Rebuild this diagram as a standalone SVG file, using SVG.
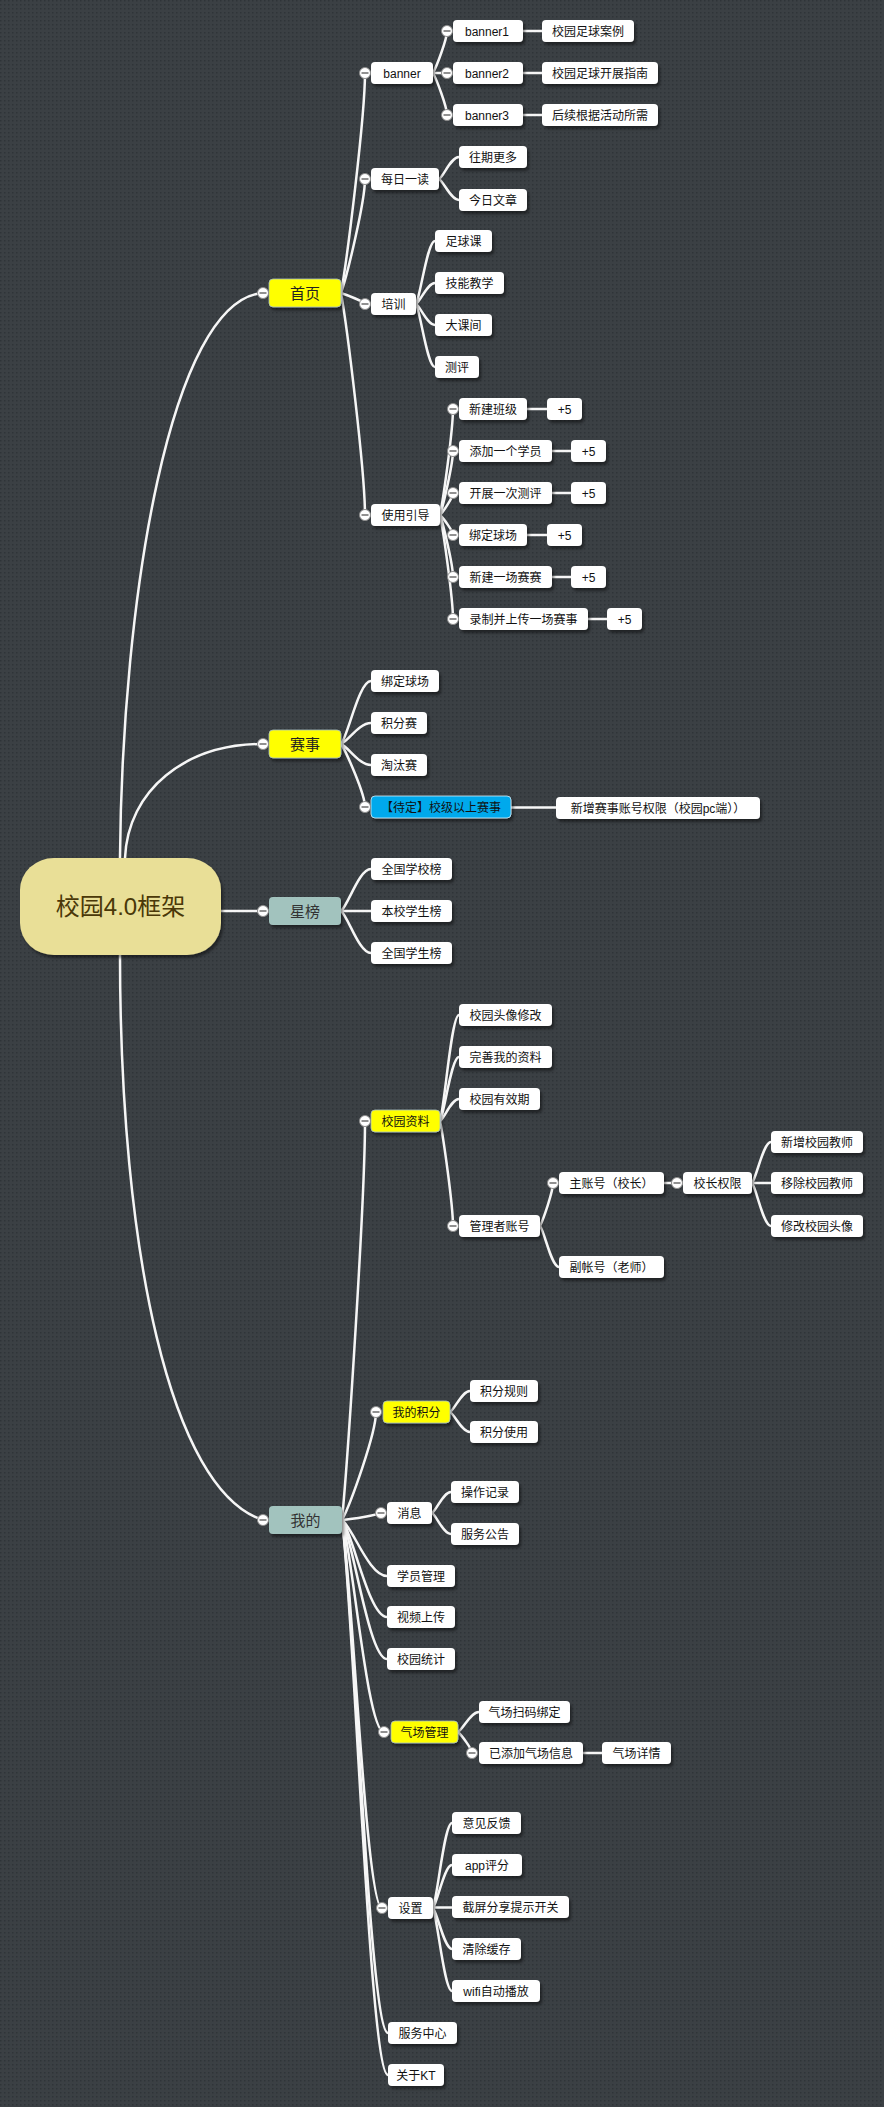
<svg xmlns="http://www.w3.org/2000/svg" width="884" height="2107" viewBox="0 0 884 2107">
<defs>
<pattern id="dots" width="4" height="4" patternUnits="userSpaceOnUse">
<rect width="4" height="4" fill="#3b4044"/>
<rect width="1.5" height="1.5" fill="#2f3438"/>
</pattern>
<filter id="sh" x="-20%" y="-30%" width="140%" height="170%">
<feDropShadow dx="2" dy="3" stdDeviation="1.5" flood-color="#000" flood-opacity="0.45"/>
</filter>
</defs>
<style>
text{font-family:'Liberation Sans','Noto Sans CJK SC',sans-serif;font-size:12px;fill:#111;text-anchor:middle}
.b{fill:#fff;filter:url(#sh)}
.y{fill:#ffff00;stroke:#a8c0c4;stroke-width:0.8;filter:url(#sh)}
.bl{fill:#00a9ec;stroke:#d8eef8;stroke-width:0.8;filter:url(#sh)}
.t{fill:#a2c3be;filter:url(#sh)}
.l1{font-size:15px;fill:#222}
.rt{font-size:24px;fill:#4a3808}
.c circle{fill:#fff;stroke:#8c8c8c;stroke-width:1}
.c line{stroke:#555;stroke-width:1.3}
#connectors path{fill:none;stroke:#f6f6f6;stroke-width:2.5;stroke-linecap:round}
</style>
<rect width="884" height="2107" fill="url(#dots)"/>
<g id="connectors">
<path d="M120,858 C122,600 170,300 263,293"/>
<path d="M125,858 C128,790 185,744 263,744"/>
<path d="M221,911 L263,911"/>
<path d="M120,955 C120,1250 170,1490 263,1520"/>
<path d="M341,293 C347,260 365,117 365,73"/>
<path d="M341,293 C347,276 365,202 365,179"/>
<path d="M341,293 C347,295 365,302 365,304"/>
<path d="M341,293 C347,326 365,471 365,515"/>
<path d="M433,73 C436.5,66.7 447,39.4 447,31"/>
<path d="M433,73 L447,73"/>
<path d="M433,73 C436.5,79.3 447,106.6 447,115"/>
<path d="M523,31 L542,31"/>
<path d="M523,73 L542,73"/>
<path d="M523,115 L542,115"/>
<path d="M439,179 C444,175.7 451,157 459,157"/>
<path d="M439,179 C444,182.2 451,200 459,200"/>
<path d="M416,304 C420.75,294.55 427.4,241 435,241"/>
<path d="M416,304 C420.75,300.85 427.4,283 435,283"/>
<path d="M416,304 C420.75,307.15 427.4,325 435,325"/>
<path d="M416,304 C420.75,313.45 427.4,367 435,367"/>
<path d="M440,515 C443.25,499.1 453,430.2 453,409"/>
<path d="M440,515 C443.25,505.4 453,463.8 453,451"/>
<path d="M440,515 C443.25,511.7 453,497.4 453,493"/>
<path d="M440,515 C443.25,518 453,531 453,535"/>
<path d="M440,515 C443.25,524.3 453,564.6 453,577"/>
<path d="M440,515 C443.25,530.6 453,598.2 453,619"/>
<path d="M527,409 L547,409"/>
<path d="M552,451 L571,451"/>
<path d="M552,493 L571,493"/>
<path d="M527,535 L547,535"/>
<path d="M552,577 L571,577"/>
<path d="M588,619 L607,619"/>
<path d="M341,744 C348.5,734.55 359,681 371,681"/>
<path d="M341,744 C348.5,740.85 359,723 371,723"/>
<path d="M341,744 C348.5,747.15 359,765 371,765"/>
<path d="M341,744 C347,753.45 365,794.4 365,807"/>
<path d="M511,807.5 L556,807.5"/>
<path d="M341,911 C348.5,904.7 359,869 371,869"/>
<path d="M341,911 L371,911"/>
<path d="M341,911 C348.5,917.3 359,953 371,953"/>
<path d="M342,1520 C347.75,1460 365,1200.8 365,1121"/>
<path d="M342,1520 C350.5,1503.8 376,1433.6 376,1412"/>
<path d="M342,1520 C351.75,1519 381,1514.4 381,1513"/>
<path d="M342,1520 C353.25,1528.4 369,1576 387,1576"/>
<path d="M342,1520 C353.25,1534.55 369,1617 387,1617"/>
<path d="M342,1520 C353.25,1540.85 369,1659 387,1659"/>
<path d="M342,1520 C352.5,1551.8 367.2,1732 384,1732"/>
<path d="M342,1520 C352,1578.2 366,1908 382,1908"/>
<path d="M342,1520 C353.5,1596.95 369.6,2033 388,2033"/>
<path d="M342,1520 C353.5,1603.25 369.6,2075 388,2075"/>
<path d="M440,1121 C444.75,1105.1 451.4,1015 459,1015"/>
<path d="M440,1121 C444.75,1111.4 451.4,1057 459,1057"/>
<path d="M440,1121 C444.75,1117.7 451.4,1099 459,1099"/>
<path d="M440,1121 C443.25,1136.75 453,1205 453,1226"/>
<path d="M540,1226 C543.25,1219.55 553,1191.6 553,1183"/>
<path d="M540,1226 C544.75,1232.15 551.4,1267 559,1267"/>
<path d="M664,1183 L683,1183"/>
<path d="M752,1183 C756.75,1176.85 763.4,1142 771,1142"/>
<path d="M752,1183 L771,1183"/>
<path d="M752,1183 C756.75,1189.45 763.4,1226 771,1226"/>
<path d="M450,1412 C455,1408.85 462,1391 470,1391"/>
<path d="M450,1412 C455,1415 462,1432 470,1432"/>
<path d="M432,1513 C436.75,1509.85 443.4,1492 451,1492"/>
<path d="M432,1513 C436.75,1516.15 443.4,1534 451,1534"/>
<path d="M458,1732 C463.25,1729 470.6,1712 479,1712"/>
<path d="M458,1732 C461.5,1735.15 472,1748.8 472,1753"/>
<path d="M583,1753 L602,1753"/>
<path d="M433,1908 C437.75,1895.25 444.4,1823 452,1823"/>
<path d="M433,1908 C437.75,1901.55 444.4,1865 452,1865"/>
<path d="M433,1907.5 L452,1907.5"/>
<path d="M433,1908 C437.75,1914.15 444.4,1949 452,1949"/>
<path d="M433,1908 C437.75,1920.45 444.4,1991 452,1991"/>
</g>

<g id="root"><rect x="20" y="858" width="201" height="97" rx="34" ry="32" fill="#e9df97" filter="url(#sh)"/><text class="rt" x="120.5" y="915">校园4.0框架</text></g>

<g id="n-shouye"><rect class="y" x="269" y="279" width="72" height="28" rx="4"/><text class="l1" x="305" y="298.5">首页</text><g class="c"><circle cx="263" cy="293" r="5.5"/><line x1="259.5" y1="293" x2="266.5" y2="293"/></g></g>
<g id="n-banner"><rect class="b" x="371" y="62" width="62" height="22" rx="4"/><text x="402" y="77.5">banner</text><g class="c"><circle cx="365" cy="73" r="5.5"/><line x1="361.5" y1="73" x2="368.5" y2="73"/></g></g>
<g id="n-banner1"><rect class="b" x="453" y="20" width="70" height="22" rx="4"/><text x="487" y="35.5">banner1</text><g class="c"><circle cx="447" cy="31" r="5.5"/><line x1="443.5" y1="31" x2="450.5" y2="31"/></g></g>
<g id="n-banner1-c"><rect class="b" x="542" y="20" width="92" height="22" rx="4"/><text x="588" y="35.5">校园足球案例</text></g>
<g id="n-banner2"><rect class="b" x="453" y="62" width="70" height="22" rx="4"/><text x="487" y="77.5">banner2</text><g class="c"><circle cx="447" cy="73" r="5.5"/><line x1="443.5" y1="73" x2="450.5" y2="73"/></g></g>
<g id="n-banner2-c"><rect class="b" x="542" y="62" width="116" height="22" rx="4"/><text x="600" y="77.5">校园足球开展指南</text></g>
<g id="n-banner3"><rect class="b" x="453" y="104" width="70" height="22" rx="4"/><text x="487" y="119.5">banner3</text><g class="c"><circle cx="447" cy="115" r="5.5"/><line x1="443.5" y1="115" x2="450.5" y2="115"/></g></g>
<g id="n-banner3-c"><rect class="b" x="542" y="104" width="116" height="22" rx="4"/><text x="600" y="119.5">后续根据活动所需</text></g>
<g id="n-meiri"><rect class="b" x="371" y="168" width="68" height="22" rx="4"/><text x="405" y="183.5">每日一读</text><g class="c"><circle cx="365" cy="179" r="5.5"/><line x1="361.5" y1="179" x2="368.5" y2="179"/></g></g>
<g id="n-wangqi"><rect class="b" x="459" y="146" width="68" height="22" rx="4"/><text x="493" y="161.5">往期更多</text></g>
<g id="n-jinri"><rect class="b" x="459" y="189" width="68" height="22" rx="4"/><text x="493" y="204.5">今日文章</text></g>
<g id="n-peixun"><rect class="b" x="371" y="293" width="45" height="22" rx="4"/><text x="393.5" y="308.5">培训</text><g class="c"><circle cx="365" cy="304" r="5.5"/><line x1="361.5" y1="304" x2="368.5" y2="304"/></g></g>
<g id="n-zuqiuke"><rect class="b" x="435" y="230" width="57" height="22" rx="4"/><text x="463.5" y="245.5">足球课</text></g>
<g id="n-jineng"><rect class="b" x="435" y="272" width="69" height="22" rx="4"/><text x="469.5" y="287.5">技能教学</text></g>
<g id="n-dakejian"><rect class="b" x="435" y="314" width="57" height="22" rx="4"/><text x="463.5" y="329.5">大课间</text></g>
<g id="n-ceping"><rect class="b" x="435" y="356" width="44" height="22" rx="4"/><text x="457" y="371.5">测评</text></g>
<g id="n-yindao"><rect class="b" x="371" y="504" width="69" height="22" rx="4"/><text x="405.5" y="519.5">使用引导</text><g class="c"><circle cx="365" cy="515" r="5.5"/><line x1="361.5" y1="515" x2="368.5" y2="515"/></g></g>
<g id="n-g1"><rect class="b" x="459" y="398" width="68" height="22" rx="4"/><text x="493" y="413.5">新建班级</text><g class="c"><circle cx="453" cy="409" r="5.5"/><line x1="449.5" y1="409" x2="456.5" y2="409"/></g></g>
<g id="n-g1p"><rect class="b" x="547" y="398" width="35" height="22" rx="4"/><text x="564.5" y="413.5">+5</text></g>
<g id="n-g2"><rect class="b" x="459" y="440" width="93" height="22" rx="4"/><text x="505.5" y="455.5">添加一个学员</text><g class="c"><circle cx="453" cy="451" r="5.5"/><line x1="449.5" y1="451" x2="456.5" y2="451"/></g></g>
<g id="n-g2p"><rect class="b" x="571" y="440" width="35" height="22" rx="4"/><text x="588.5" y="455.5">+5</text></g>
<g id="n-g3"><rect class="b" x="459" y="482" width="93" height="22" rx="4"/><text x="505.5" y="497.5">开展一次测评</text><g class="c"><circle cx="453" cy="493" r="5.5"/><line x1="449.5" y1="493" x2="456.5" y2="493"/></g></g>
<g id="n-g3p"><rect class="b" x="571" y="482" width="35" height="22" rx="4"/><text x="588.5" y="497.5">+5</text></g>
<g id="n-g4"><rect class="b" x="459" y="524" width="68" height="22" rx="4"/><text x="493" y="539.5">绑定球场</text><g class="c"><circle cx="453" cy="535" r="5.5"/><line x1="449.5" y1="535" x2="456.5" y2="535"/></g></g>
<g id="n-g4p"><rect class="b" x="547" y="524" width="35" height="22" rx="4"/><text x="564.5" y="539.5">+5</text></g>
<g id="n-g5"><rect class="b" x="459" y="566" width="93" height="22" rx="4"/><text x="505.5" y="581.5">新建一场赛赛</text><g class="c"><circle cx="453" cy="577" r="5.5"/><line x1="449.5" y1="577" x2="456.5" y2="577"/></g></g>
<g id="n-g5p"><rect class="b" x="571" y="566" width="35" height="22" rx="4"/><text x="588.5" y="581.5">+5</text></g>
<g id="n-g6"><rect class="b" x="459" y="608" width="129" height="22" rx="4"/><text x="523.5" y="623.5">录制并上传一场赛事</text><g class="c"><circle cx="453" cy="619" r="5.5"/><line x1="449.5" y1="619" x2="456.5" y2="619"/></g></g>
<g id="n-g6p"><rect class="b" x="607" y="608" width="35" height="22" rx="4"/><text x="624.5" y="623.5">+5</text></g>

<g id="n-saishi"><rect class="y" x="269" y="730" width="72" height="28" rx="4"/><text class="l1" x="305" y="749.5">赛事</text><g class="c"><circle cx="263" cy="744" r="5.5"/><line x1="259.5" y1="744" x2="266.5" y2="744"/></g></g>
<g id="n-s1"><rect class="b" x="371" y="670" width="68" height="22" rx="4"/><text x="405" y="685.5">绑定球场</text></g>
<g id="n-s2"><rect class="b" x="371" y="712" width="56" height="22" rx="4"/><text x="399" y="727.5">积分赛</text></g>
<g id="n-s3"><rect class="b" x="371" y="754" width="56" height="22" rx="4"/><text x="399" y="769.5">淘汰赛</text></g>
<g id="n-s4"><rect class="bl" x="371" y="796" width="140" height="22" rx="4"/><text x="441" y="811.5">【待定】校级以上赛事</text><g class="c"><circle cx="365" cy="807" r="5.5"/><line x1="361.5" y1="807" x2="368.5" y2="807"/></g></g>
<g id="n-s4c"><rect class="b" x="556" y="797" width="204" height="22" rx="4"/><text x="658" y="812.5">新增赛事账号权限（校园pc端））</text></g>

<g id="n-xingbang"><rect class="t" x="269" y="897" width="72" height="28" rx="4"/><text class="l1" x="305" y="916.5" style="fill:#333">星榜</text><g class="c"><circle cx="263" cy="911" r="5.5"/><line x1="259.5" y1="911" x2="266.5" y2="911"/></g></g>
<g id="n-x1"><rect class="b" x="371" y="858" width="81" height="22" rx="4"/><text x="411.5" y="873.5">全国学校榜</text></g>
<g id="n-x2"><rect class="b" x="371" y="900" width="81" height="22" rx="4"/><text x="411.5" y="915.5">本校学生榜</text></g>
<g id="n-x3"><rect class="b" x="371" y="942" width="81" height="22" rx="4"/><text x="411.5" y="957.5">全国学生榜</text></g>

<g id="n-wode"><rect class="t" x="269" y="1506" width="73" height="28" rx="4"/><text class="l1" x="305.5" y="1525.5" style="fill:#333">我的</text><g class="c"><circle cx="263" cy="1520" r="5.5"/><line x1="259.5" y1="1520" x2="266.5" y2="1520"/></g></g>
<g id="n-ziliao"><rect class="y" x="371" y="1110" width="69" height="22" rx="4"/><text x="405.5" y="1125.5">校园资料</text><g class="c"><circle cx="365" cy="1121" r="5.5"/><line x1="361.5" y1="1121" x2="368.5" y2="1121"/></g></g>
<g id="n-z1"><rect class="b" x="459" y="1004" width="93" height="22" rx="4"/><text x="505.5" y="1019.5">校园头像修改</text></g>
<g id="n-z2"><rect class="b" x="459" y="1046" width="93" height="22" rx="4"/><text x="505.5" y="1061.5">完善我的资料</text></g>
<g id="n-z3"><rect class="b" x="459" y="1088" width="81" height="22" rx="4"/><text x="499.5" y="1103.5">校园有效期</text></g>
<g id="n-z4"><rect class="b" x="459" y="1215" width="81" height="22" rx="4"/><text x="499.5" y="1230.5">管理者账号</text><g class="c"><circle cx="453" cy="1226" r="5.5"/><line x1="449.5" y1="1226" x2="456.5" y2="1226"/></g></g>
<g id="n-zhu"><rect class="b" x="559" y="1172" width="105" height="22" rx="4"/><text x="611.5" y="1187.5">主账号（校长）</text><g class="c"><circle cx="553" cy="1183" r="5.5"/><line x1="549.5" y1="1183" x2="556.5" y2="1183"/></g></g>
<g id="n-quanxian"><rect class="b" x="683" y="1172" width="69" height="22" rx="4"/><text x="717.5" y="1187.5">校长权限</text><g class="c"><circle cx="677" cy="1183" r="5.5"/><line x1="673.5" y1="1183" x2="680.5" y2="1183"/></g></g>
<g id="n-q1"><rect class="b" x="771" y="1131" width="92" height="22" rx="4"/><text x="817" y="1146.5">新增校园教师</text></g>
<g id="n-q2"><rect class="b" x="771" y="1172" width="92" height="22" rx="4"/><text x="817" y="1187.5">移除校园教师</text></g>
<g id="n-q3"><rect class="b" x="771" y="1215" width="92" height="22" rx="4"/><text x="817" y="1230.5">修改校园头像</text></g>
<g id="n-fu"><rect class="b" x="559" y="1256" width="105" height="22" rx="4"/><text x="611.5" y="1271.5">副帐号（老师）</text></g>

<g id="n-jifen"><rect class="y" x="383" y="1401" width="67" height="22" rx="4"/><text x="416.5" y="1416.5">我的积分</text><g class="c"><circle cx="376" cy="1412" r="5.5"/><line x1="372.5" y1="1412" x2="379.5" y2="1412"/></g></g>
<g id="n-j1"><rect class="b" x="470" y="1380" width="68" height="22" rx="4"/><text x="504" y="1395.5">积分规则</text></g>
<g id="n-j2"><rect class="b" x="470" y="1421" width="68" height="22" rx="4"/><text x="504" y="1436.5">积分使用</text></g>
<g id="n-xiaoxi"><rect class="b" x="387" y="1502" width="45" height="22" rx="4"/><text x="409.5" y="1517.5">消息</text><g class="c"><circle cx="381" cy="1513" r="5.5"/><line x1="377.5" y1="1513" x2="384.5" y2="1513"/></g></g>
<g id="n-m1"><rect class="b" x="451" y="1481" width="68" height="22" rx="4"/><text x="485" y="1496.5">操作记录</text></g>
<g id="n-m2"><rect class="b" x="451" y="1523" width="68" height="22" rx="4"/><text x="485" y="1538.5">服务公告</text></g>
<g id="n-xueyuan"><rect class="b" x="387" y="1565" width="68" height="22" rx="4"/><text x="421" y="1580.5">学员管理</text></g>
<g id="n-shipin"><rect class="b" x="387" y="1606" width="68" height="22" rx="4"/><text x="421" y="1621.5">视频上传</text></g>
<g id="n-tongji"><rect class="b" x="387" y="1648" width="68" height="22" rx="4"/><text x="421" y="1663.5">校园统计</text></g>
<g id="n-qichang"><rect class="y" x="391" y="1721" width="67" height="22" rx="4"/><text x="424.5" y="1736.5">气场管理</text><g class="c"><circle cx="384" cy="1732" r="5.5"/><line x1="380.5" y1="1732" x2="387.5" y2="1732"/></g></g>
<g id="n-qc1"><rect class="b" x="479" y="1701" width="91" height="22" rx="4"/><text x="524.5" y="1716.5">气场扫码绑定</text></g>
<g id="n-qc2"><rect class="b" x="479" y="1742" width="104" height="22" rx="4"/><text x="531" y="1757.5">已添加气场信息</text><g class="c"><circle cx="472" cy="1753" r="5.5"/><line x1="468.5" y1="1753" x2="475.5" y2="1753"/></g></g>
<g id="n-qc3"><rect class="b" x="602" y="1742" width="69" height="22" rx="4"/><text x="636.5" y="1757.5">气场详情</text></g>
<g id="n-shezhi"><rect class="b" x="388" y="1897" width="45" height="22" rx="4"/><text x="410.5" y="1912.5">设置</text><g class="c"><circle cx="382" cy="1908" r="5.5"/><line x1="378.5" y1="1908" x2="385.5" y2="1908"/></g></g>
<g id="n-sz1"><rect class="b" x="452" y="1812" width="69" height="22" rx="4"/><text x="486.5" y="1827.5">意见反馈</text></g>
<g id="n-sz2"><rect class="b" x="452" y="1854" width="70" height="22" rx="4"/><text x="487" y="1869.5">app评分</text></g>
<g id="n-sz3"><rect class="b" x="452" y="1896" width="117" height="22" rx="4"/><text x="510.5" y="1911.5">截屏分享提示开关</text></g>
<g id="n-sz4"><rect class="b" x="452" y="1938" width="69" height="22" rx="4"/><text x="486.5" y="1953.5">清除缓存</text></g>
<g id="n-sz5"><rect class="b" x="452" y="1980" width="88" height="22" rx="4"/><text x="496" y="1995.5">wifi自动播放</text></g>
<g id="n-fuwu"><rect class="b" x="388" y="2022" width="69" height="22" rx="4"/><text x="422.5" y="2037.5">服务中心</text></g>
<g id="n-guanyu"><rect class="b" x="388" y="2064" width="56" height="22" rx="4"/><text x="416" y="2079.5">关于KT</text></g>
</svg>
